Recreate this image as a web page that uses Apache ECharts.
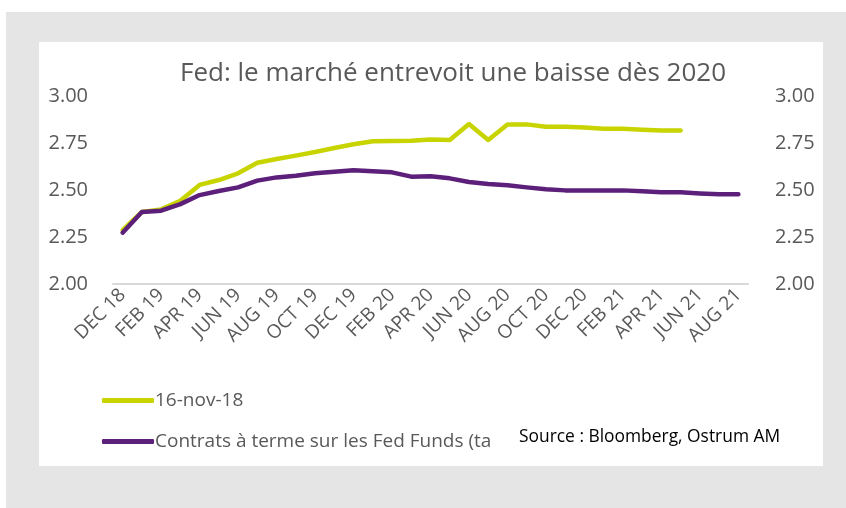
<!DOCTYPE html>
<html lang="fr">
<head>
	<meta charset="UTF-8">
	<title>Fed</title>
	<script src="https://cdn.jsdelivr.net/npm/echarts@6/dist/echarts.min.js"></script>
	<style>
		html, body { margin: 0; padding: 0; background: #ffffff; }
		.container { width: 846px; height: 508px; }
	</style>
</head>
<body>
	<div class="container" id="container"></div>
	<script>
		// mois de DEC 18 a AUG 21
		var months = ['DEC 18',
			'JAN 19','FEB 19','MAR 19','APR 19','MAY 19','JUN 19','JUL 19','AUG 19','SEP 19','OCT 19','NOV 19','DEC 19',
			'JAN 20','FEB 20','MAR 20','APR 20','MAY 20','JUN 20','JUL 20','AUG 20','SEP 20','OCT 20','NOV 20','DEC 20',
			'JAN 21','FEB 21','MAR 21','APR 21','MAY 21','JUN 21','JUL 21','AUG 21'];

		// courbe au 16-nov-18
		var nov16 = [2.287, 2.383, 2.397, 2.443, 2.527, 2.553, 2.589, 2.645, 2.665, 2.683,
			2.702, 2.723, 2.743, 2.759, 2.761, 2.762, 2.768, 2.766, 2.851, 2.766,
			2.849, 2.849, 2.837, 2.837, 2.832, 2.826, 2.826, 2.821, 2.816, 2.816];

		// contrats a terme Fed Funds
		var futures = [2.273, 2.383, 2.390, 2.425, 2.473, 2.495, 2.514, 2.550, 2.567, 2.576,
			2.589, 2.597, 2.605, 2.600, 2.594, 2.571, 2.573, 2.562, 2.543, 2.532,
			2.525, 2.514, 2.504, 2.498, 2.498, 2.498, 2.498, 2.493, 2.488, 2.488,
			2.482, 2.477, 2.477];

		var seriesNames = ['16-nov-18', 'Contrats à terme sur les Fed Funds (taux implicite)'];
		var yTicks = { min: 2, max: 3, interval: 0.25 };

		var txt = '#595959';
		var font = 'Open Sans';

		var myChart = echarts.init(document.getElementById('container'));

		function yAxis(pos, margin) {
			return {
				type: 'value',
				position: pos,
				min: yTicks.min,
				max: yTicks.max,
				interval: yTicks.interval,
				splitLine: { show: false },
				axisLine: { show: false },
				axisTick: { show: false },
				axisLabel: {
					color: txt,
					fontSize: 20,
					fontFamily: font,
					margin: margin,
					formatter: function (v) { return v.toFixed(2); }
				}
			};
		}

		var option = {
			animation: false,
			backgroundColor: '#ffffff',
			graphic: [
				{ type: 'rect', z: -10, shape: { x: 6, y: 12, width: 840, height: 496 }, style: { fill: '#e5e5e5' } },
				{ type: 'rect', z: -9, shape: { x: 39, y: 42, width: 784, height: 424 }, style: { fill: '#ffffff' } },
				// la boite Source masque la fin de la legende
				{ type: 'rect', z: 100, shape: { x: 491, y: 424, width: 306, height: 38 }, style: { fill: '#ffffff' } },
				{
					type: 'text', z: 101, left: 519, top: 429,
					style: { text: 'Source : Bloomberg, Ostrum AM', fill: '#000000', fontSize: 17.4, fontFamily: font }
				}
			],
			title: {
				text: 'Fed: le marché entrevoit une baisse dès 2020',
				left: 448,
				textAlign: 'center',
				top: 56,
				textStyle: { color: txt, fontSize: 26, fontWeight: 'normal', fontFamily: font }
			},
			legend: {
				orient: 'vertical',
				left: 97,
				top: 386,
				itemGap: 22,
				itemWidth: 52,
				itemHeight: 5,
				icon: 'roundRect',
				textStyle: { color: txt, fontSize: 19, fontFamily: font, padding: [0, 0, 0, -4] },
				data: seriesNames
			},
			grid: { left: 113, right: 98, top: 96, bottom: 224 },
			xAxis: {
				type: 'category',
				data: months,
				boundaryGap: true,
				axisLine: { lineStyle: { color: '#d9d9d9', width: 2 } },
				axisTick: { interval: 0, length: 6, lineStyle: { color: '#d9d9d9', width: 2 } },
				axisLabel: { interval: 1, rotate: 45, color: txt, fontSize: 19, fontFamily: font, margin: 8 }
			},
			yAxis: [yAxis('left', 25), yAxis('right', 27)],
			series: [
				{
					name: seriesNames[0],
					type: 'line',
					data: nov16,
					symbol: 'none',
					color: '#c8d400',
					lineStyle: { width: 4.5, color: '#c8d400', cap: 'round', join: 'round' }
				},
				{
					name: seriesNames[1],
					type: 'line',
					data: futures,
					symbol: 'none',
					color: '#5c1f7a',
					lineStyle: { width: 4.5, color: '#5c1f7a', cap: 'round', join: 'round' }
				}
			]
		};

		myChart.setOption(option);
	</script>
</body>
</html>
